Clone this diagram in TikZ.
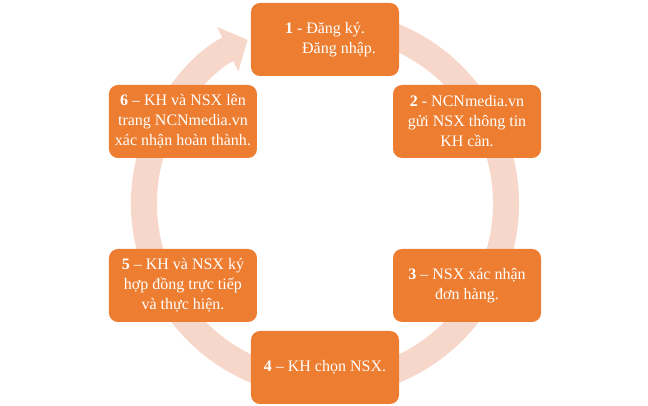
\documentclass[tikz,border=0pt]{standalone}
\usepackage{fontspec}
\setmainfont{Liberation Serif}
\usetikzlibrary{arrows.meta}
\definecolor{boxorange}{RGB}{237,125,49}
\definecolor{ringpink}{RGB}{248,215,203}

\begin{document}
\begin{tikzpicture}[
        x=1pt, y=1pt,
        font=\fontsize{16}{20}\selectfont,
        stage/.style={
            rectangle,
            rounded corners=9pt,
            fill=boxorange,
            text=white,
            minimum width=148pt,
            minimum height=73pt,
            align=center,
            inner sep=2pt,
        },
        ring/.style={
            draw=ringpink,
            line width=26pt,
            -{Triangle[width=48pt,length=22pt]},
        },
    ]
    \useasboundingbox (-325,-202.5) rectangle (323,203.5);

    % Background ring with arrow into step 1
    \draw [ring] (70:181) arc [start angle=70, end angle=-244.7, radius=181];

    % Steps named box#
    \node [stage] (box1) at (90:164) {\textbf{1} - Đăng ký.\\\hspace*{28pt}Đăng nhập.};
    \node [stage] (box2) at (30:164) {\textbf{2} - NCNmedia.vn\\gửi NSX thông tin\\KH cần.};
    \node [stage] (box3) at (-30:164) {\textbf{3} – NSX xác nhận\\đơn hàng.};
    \node [stage] (box4) at (-90:164) {\textbf{4} – KH chọn NSX.};
    \node [stage] (box5) at (-150:164) {\textbf{5} – KH và NSX ký\\hợp đồng trực tiếp\\và thực hiện.};
    \node [stage] (box6) at (150:164) {\textbf{6} – KH và NSX lên\\trang NCNmedia.vn\\xác nhận hoàn thành.};

\end{tikzpicture}
\end{document}
